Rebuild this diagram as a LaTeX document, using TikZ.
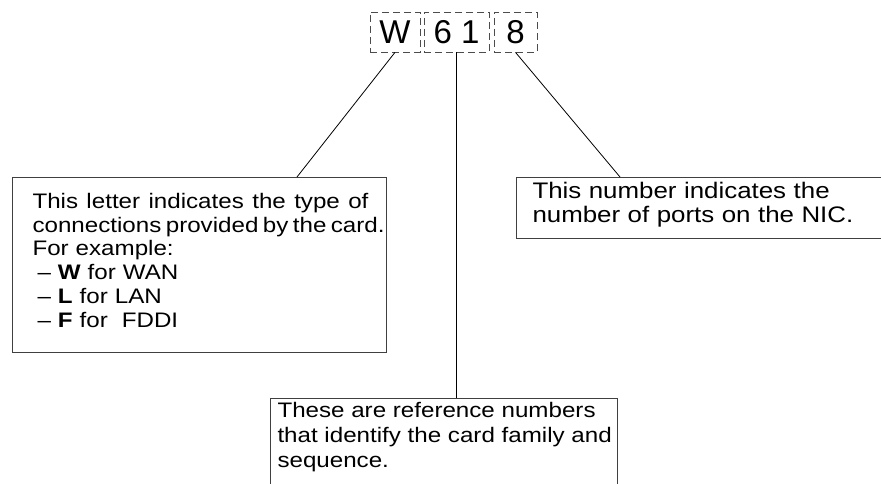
\documentclass[tikz,border=0pt]{standalone}
\usepackage{fontspec}
\setmainfont{Liberation Sans}[FakeStretch=1.15]
\newfontfamily\digitfont{Liberation Sans}
\usetikzlibrary{calc}

\begin{document}
\begin{tikzpicture}[x=1pt, y=-1pt,
  digitbox/.style={draw=black!70, line width=0.7pt, dash pattern=on 7pt off 4pt,
    minimum height=40pt, inner sep=0pt, font=\digitfont\fontsize{33}{36}\selectfont},
  notebox/.style={draw=black!75, line width=1pt, anchor=north west, align=left}]
\useasboundingbox (0,0) rectangle (881,484);
\clip (0,0) rectangle (881,484);

% the three dashed fields of the code
\foreach \x/\w/\name/\txt in {395/50/W/W, 456.5/65/num/6 1, 515.5/43/eight/8}
  \node[digitbox, minimum width=\w pt] (\name) at (\x,32) {\txt};

\node[notebox, inner xsep=20pt, inner ysep=15.5pt, text width=334pt, text depth=128.5pt,
  font=\fontsize{21}{23.8}\selectfont]
  (lett) at (12,177) {%
  \makebox[336pt][s]{\spaceskip=0pt This letter indicates the type of}\\
  \makebox[351pt][s]{\spaceskip=0pt connections provided by the card.}\\
  For example:\\
  \hspace*{5pt}\textendash\ \textbf{W} for WAN\\
  \hspace*{5pt}\textendash\ \textbf{L} for LAN\\
  \hspace*{5pt}\textendash\ \textbf{F} for \ FDDI};

\node[notebox, inner xsep=16pt, inner ysep=5pt, text width=400pt, text depth=34.7pt,
  font=\fontsize{22.5}{24}\selectfont]
  (port) at (516,177) {This number indicates the\\ number of ports on the NIC.};

\node[notebox, inner xsep=7pt, inner ysep=4pt, text width=333pt, text depth=110pt,
  font=\fontsize{21}{25}\selectfont]
  (ref) at (270,398) {\mbox{\spaceskip=0pt These are reference numbers}\\
  \mbox{\spaceskip=0pt that identify the card family and}\\ sequence.};

\draw[line width=0.8pt] (W.south) -- ([xshift=285pt]lett.north west);
\draw[line width=0.8pt] (num.south) -- (num.south |- ref.north);
\draw[line width=0.8pt] (eight.south) -- ([xshift=104pt]port.north west);
\end{tikzpicture}
\end{document}
